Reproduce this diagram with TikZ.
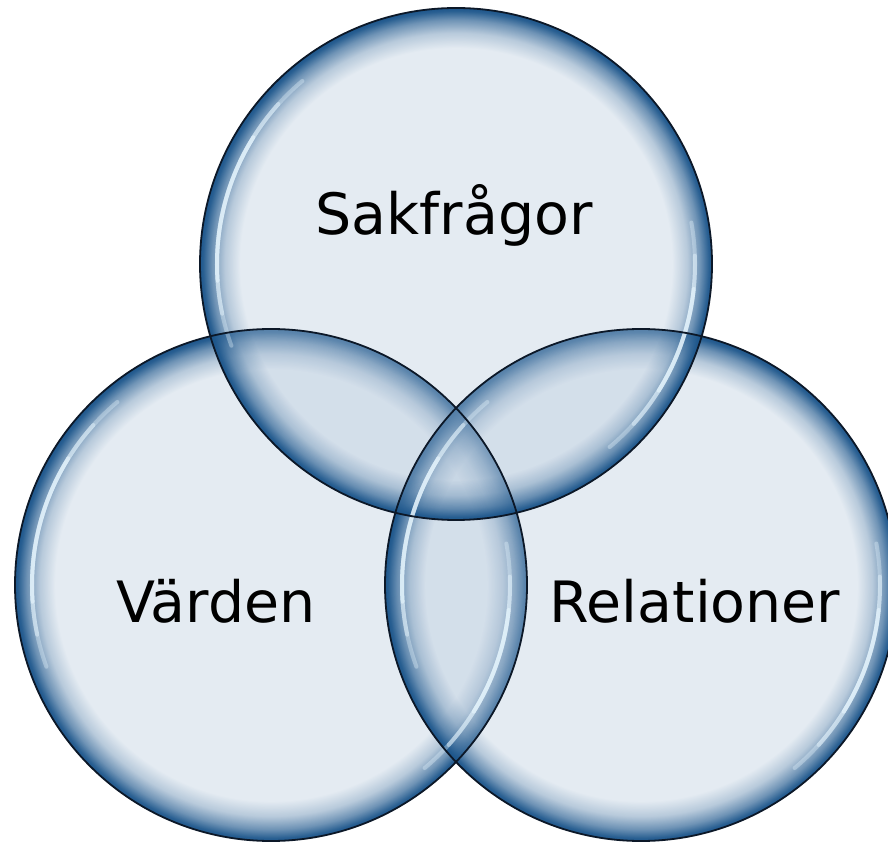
\documentclass[tikz,border=0pt]{standalone}
\usepackage{fontspec}
\setmainfont{DejaVu Sans}
\usetikzlibrary{fadings}
\pgfdeclareradialshading{ringmask}{\pgfpointorigin}{color(0bp)=(black); color(21bp)=(black); color(22.5bp)=(black!78!white); color(23.75bp)=(black!42!white); color(24.6bp)=(black!8!white); color(25bp)=(white); color(50bp)=(white)}
\pgfdeclarefading{ringfade}{\pgfuseshading{ringmask}}
\definecolor{innerfill}{RGB}{182,201,220}
\definecolor{ringblue}{RGB}{26,84,138}
\definecolor{rimline}{RGB}{12,24,40}
\definecolor{glint}{RGB}{232,247,255}
\tikzset{
  lbl/.style={anchor=base, inner sep=0pt, font=\fontsize{57}{60}\selectfont, text=black},
  bubblefill/.style={fill=innerfill, fill opacity=0.37},
  bubblering/.style={fill=ringblue, path fading=ringfade},
  bubblerim/.style={draw=rimline, line width=1.8pt},
  glintarc/.style={draw=glint, line cap=round}
}
\newcommand{\bubble}[2]{%
  \fill[bubblefill] (#1,#2) circle (256pt);
  \fill[bubblering] (#1,#2) circle (256pt);
}
\newcommand{\bubbleglint}[2]{%
  \foreach \a/\b/\op in {130/200/0.35, 138/192/0.45, 148/184/0.6}{
    \draw[glintarc, line width=4pt, draw opacity=\op] ([shift={(\a:239pt)}]#1,#2) arc (\a:\b:239pt);
  }
  \foreach \a/\b/\op in {-50/10/0.35, -42/2/0.45, -32/-6/0.6}{
    \draw[glintarc, line width=4pt, draw opacity=\op] ([shift={(\a:239pt)}]#1,#2) arc (\a:\b:239pt);
  }
}
\begin{document}
\begin{tikzpicture}[x=1pt,y=1pt]
\useasboundingbox (0,0) rectangle (888,841);
\clip (0,0) rectangle (888,841);
\coordinate (cT) at (456,577);
\coordinate (cL) at (271,256);
\coordinate (cR) at (641,256);
\bubble{271}{256}
\bubble{641}{256}
\bubble{456}{577}
\bubbleglint{271}{256}
\bubbleglint{641}{256}
\bubbleglint{456}{577}
\draw[bubblerim] (cL) circle (256pt);
\draw[bubblerim] (cR) circle (256pt);
\draw[bubblerim] (cT) circle (256pt);
\node[lbl] (sak) at (454,606) {Sakfrågor};
\node[lbl] (var) at (216,219) {Värden};
\node[lbl] (rel) at (695,219) {Relationer};
\end{tikzpicture}
\end{document}
